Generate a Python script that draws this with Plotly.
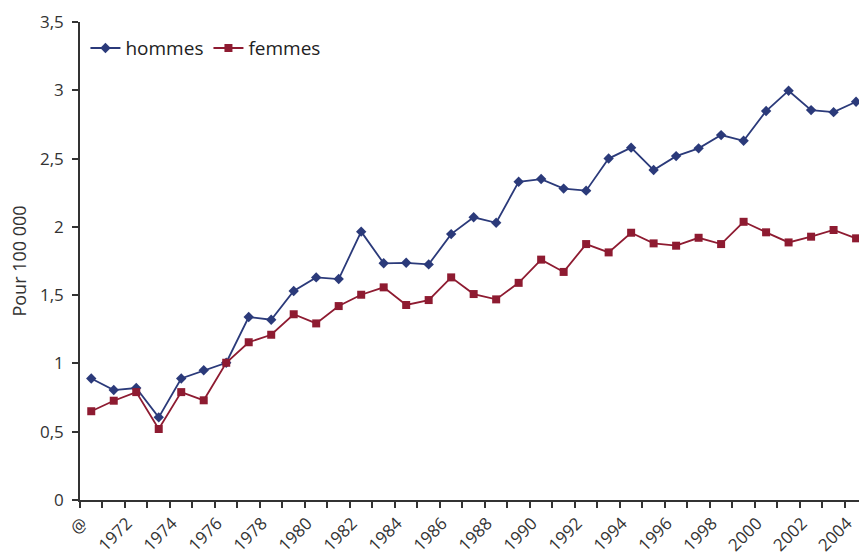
import plotly.graph_objects as go

years = list(range(1970, 2005))
hommes = [0.89, 0.805, 0.82, 0.605, 0.89, 0.95, 1.005, 1.34, 1.32, 1.53,
          1.63, 1.618, 1.965, 1.733, 1.737, 1.725, 1.947, 2.07, 2.03, 2.33,
          2.35, 2.28, 2.265, 2.50, 2.58, 2.416, 2.518, 2.575, 2.672, 2.63,
          2.848, 2.997, 2.855, 2.84, 2.916]
femmes = [0.65, 0.727, 0.79, 0.52, 0.79, 0.73, 1.005, 1.155, 1.21, 1.36,
          1.293, 1.42, 1.503, 1.557, 1.428, 1.464, 1.63, 1.508, 1.469, 1.59,
          1.76, 1.67, 1.874, 1.813, 1.957, 1.879, 1.862, 1.92, 1.874, 2.037,
          1.96, 1.886, 1.928, 1.977, 1.916]
tick_years = list(range(1970, 2005, 2))
tick_text = ["@"] + [str(y) for y in tick_years[1:]]
y_ticks = [0, 0.5, 1, 1.5, 2, 2.5, 3, 3.5]

NAVY = "#2b3a7a"
RED = "#8e1b31"
AX = "#333333"
FONT = "Open Sans"

fig = go.Figure()
fig.add_trace(go.Scatter(x=years, y=hommes, name="hommes", mode="lines+markers",
                         line=dict(color=NAVY, width=1.8),
                         marker=dict(symbol="diamond", size=8, color=NAVY),
                         cliponaxis=False))
fig.add_trace(go.Scatter(x=years, y=femmes, name="femmes", mode="lines+markers",
                         line=dict(color=RED, width=1.8),
                         marker=dict(symbol="square", size=8, color=RED),
                         cliponaxis=False))

fig.update_layout(
    width=859, height=559,
    margin=dict(l=80, r=0, t=22, b=59, autoexpand=False),
    paper_bgcolor="white", plot_bgcolor="white",
    separators=", ",
    font=dict(family=FONT, size=17, color=AX),
    showlegend=True,
    legend=dict(orientation="h", x=0.007, y=0.985, xanchor="left", yanchor="top",
                font=dict(size=19, color="#222222"), bgcolor="rgba(0,0,0,0)",
                itemwidth=30, tracegroupgap=0),
    xaxis=dict(range=[1969.5, 2004.13], tickmode="array", tickvals=tick_years,
               ticktext=tick_text, tickangle=-45, ticks="", showgrid=False,
               zeroline=False, showline=True, linecolor=AX, linewidth=1.5,
               automargin=False, tickfont=dict(size=17, color=AX),
               ticklabeloverflow="allow", ticklabelshift=-9, ticklabelstandoff=5,
               minor=dict(tickmode="linear", tick0=1969.5, dtick=1, ticks="outside",
                          ticklen=6, tickcolor=AX, tickwidth=1.5, showgrid=False)),
    yaxis=dict(range=[0, 3.5], tickmode="array", tickvals=y_ticks,
               ticks="outside", ticklen=6, tickcolor=AX, tickwidth=1.5,
               showgrid=False, zeroline=False, showline=True, linecolor=AX,
               linewidth=1.5, automargin=False, tickfont=dict(size=17, color=AX),
               ticklabelstandoff=5,
               title=dict(text="Pour 100 000", font=dict(size=18, color=AX), standoff=9)),
)

fig.write_html("out.html",
               config={"displayModeBar": False},
               post_script="document.body.style.margin='0';"
                           "document.body.style.overflow='hidden';")
